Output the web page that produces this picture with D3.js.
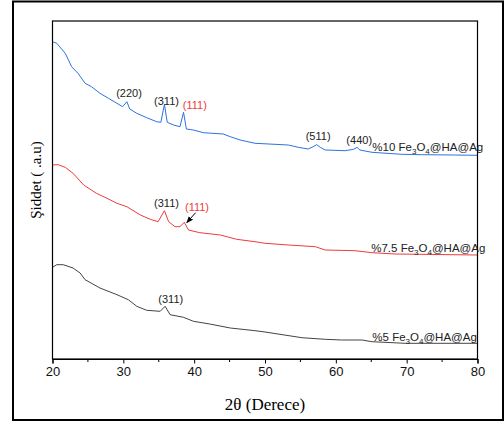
<!DOCTYPE html>
<html>
<head>
<meta charset="utf-8">
<script src="https://cdn.jsdelivr.net/npm/d3@7"></script>
<style>
  body { margin: 0; background: #fff; }
  svg { display: block; }
  .tick text { font-family: "Liberation Sans", Arial, sans-serif; }
</style>
</head>
<body>
<svg id="chart" width="504" height="425"></svg>
<script>
// XRD patterns, 2theta (deg) vs intensity (a.u., offset stacked)
var blue10 = [[20.0,317.3],[20.6,315.7],[21.8,305.7],[22.7,292.3],[23.6,285.7],[24.6,275.7],[25.5,272.3],[26.7,265.7],[27.9,260.7],[29.1,255.7],[29.9,252.3],[30.5,257.3],[30.9,250],[31.9,245.7],[33.3,241.3],[34.7,237.3],[35.3,236.7],[35.8,254.7],[36.2,236.7],[37.1,234],[38.0,232.3],[38.5,246.7],[38.9,230],[39.9,229],[41.3,226.3],[44.1,225],[45.1,222.3],[46.5,219],[48.6,215.7],[53.3,214],[54.7,211.7],[56.1,210],[56.8,212.3],[57.3,214.3],[57.8,211.7],[58.5,209],[61.3,208.3],[62.5,209.7],[63.0,211.7],[63.4,209],[65.1,206.7],[69.3,204.7],[72.1,204.3],[76.8,204],[80,203.7]];
var red75 = [[20.0,194],[20.8,194.3],[21.8,191.7],[22.9,185.7],[24.4,174],[26.2,165.7],[27.7,160.7],[29.1,155.7],[30.5,152.3],[32.4,144],[33.8,139.7],[34.9,137.3],[35.8,148.3],[36.4,137.3],[37.3,132.3],[38.0,132.3],[38.6,136.7],[39.2,129],[40.8,126.3],[43.7,124],[46.0,119.7],[48.6,117.3],[50.0,115.7],[53.3,114],[57.1,112.3],[58.5,109],[62.7,108.3],[65.1,106.3],[68.4,105],[80,104]];
var black5 = [[20.0,91.7],[20.6,94.3],[21.5,94.3],[22.9,91],[23.9,86],[24.6,79.3],[26.7,71],[29.1,64.3],[30.7,59.3],[31.9,52.7],[33.3,48.7],[35.2,47.7],[35.9,52.7],[36.6,44.3],[38.5,41.7],[39.9,37.7],[42.2,35],[45.1,31],[48.6,28.3],[50.0,27],[55.2,21.3],[58.5,19.7],[60.8,19],[63.7,19],[65.1,17.3],[69.8,15.7],[80,15.7]];

var seriesNames = ['%10', '%7.5', '%5'];
var seriesColors = ['#2b73e0', '#f03a3a', '#444444'];
var seriesLabelPos = [[65.15, 208.3], [65.0, 107.3], [65.15, 18.3]];

// peak labels: text, 2theta, intensity, red?
var peaks = [
  ['(220)', 30.8, 262.3, 0],
  ['(311)', 36.1, 254.3, 0],
  ['(111)', 40.1, 250, 1],
  ['(511)', 57.5, 219.3, 0],
  ['(440)', 63.3, 215, 0],
  ['(311)', 36.1, 152.3, 0],
  ['(111)', 40.4, 148.3, 1],
  ['(311)', 36.7, 56.3, 0]
];
var arrowFrom = [40.2, 146.3];
var arrowTo = [38.95, 136.3];

var xTicks = [20, 30, 40, 50, 60, 70, 80];
var xMinor = [25, 35, 45, 55, 65, 75];

var svg = d3.select('#chart');
var margin = { top: 21, right: 26.5, bottom: 66, left: 52.5 };
var W = 504, H = 425;

// outer frame
svg.append('rect')
  .attr('x', 13).attr('y', 1.5)
  .attr('width', 503 - 13).attr('height', 420 - 1.5)
  .attr('fill', 'none').attr('stroke', '#000').attr('stroke-width', 2);

var x = d3.scaleLinear().domain([20, 80]).range([margin.left, W - margin.right]);
var y = d3.scaleLinear().domain([0, 338]).range([H - margin.bottom, margin.top]);

svg.append('defs').append('marker')
  .attr('id', 'arr')
  .attr('viewBox', '0 0 10 10')
  .attr('refX', 9).attr('refY', 5)
  .attr('markerWidth', 7).attr('markerHeight', 7)
  .attr('orient', 'auto')
  .append('path').attr('d', 'M0,1 L10,5 L0,9 Z').attr('fill', '#000');

var line = d3.line().x(d => x(d[0])).y(d => y(d[1]));

[blue10, red75, black5].forEach(function (s, i) {
  svg.append('path')
    .datum(s)
    .attr('d', line)
    .attr('fill', 'none')
    .attr('stroke', seriesColors[i])
    .attr('stroke-width', 1);
});

// plot box
svg.append('rect')
  .attr('x', x(20)).attr('y', y(338))
  .attr('width', x(80) - x(20)).attr('height', y(0) - y(338))
  .attr('fill', 'none').attr('stroke', '#000').attr('stroke-width', 1.2);

// x axis
var xAxis = svg.append('g')
  .attr('transform', 'translate(0,' + y(0) + ')')
  .call(d3.axisBottom(x).tickValues(xTicks).tickSize(4.5).tickPadding(3).tickFormat(d3.format('d')));
xAxis.select('.domain').attr('stroke-width', 1.2);
xAxis.selectAll('.tick text').attr('font-size', 13).attr('fill', '#111');
xAxis.selectAll('.minor')
  .data(xMinor).enter()
  .append('line')
  .attr('x1', d => x(d)).attr('x2', d => x(d))
  .attr('y1', 0).attr('y2', 3)
  .attr('stroke', '#000');

svg.append('text')
  .attr('x', x(50)).attr('y', 410)
  .attr('text-anchor', 'middle')
  .attr('font-family', '"Liberation Serif", "Times New Roman", serif')
  .attr('font-size', 17)
  .text('2θ (Derece)');

svg.append('text')
  .attr('transform', 'translate(41,' + 180 + ') rotate(-90)')
  .attr('text-anchor', 'middle')
  .attr('font-family', '"Liberation Serif", "Times New Roman", serif')
  .attr('font-size', 15)
  .text('Şiddet ( .a.u)');

// peak labels
svg.selectAll('.peak')
  .data(peaks).enter()
  .append('text')
  .attr('x', d => x(d[1])).attr('y', d => y(d[2]))
  .attr('text-anchor', 'middle')
  .attr('font-family', '"Liberation Sans", Arial, sans-serif')
  .attr('font-size', 11)
  .attr('fill', d => d[3] ? '#f03a3a' : '#222')
  .text(d => d[0]);

svg.append('line')
  .attr('x1', x(arrowFrom[0])).attr('y1', y(arrowFrom[1]))
  .attr('x2', x(arrowTo[0])).attr('y2', y(arrowTo[1]))
  .attr('stroke', '#000').attr('stroke-width', 1)
  .attr('marker-end', 'url(#arr)');

// series labels
seriesNames.forEach(function (n, i) {
  var t = svg.append('text')
    .attr('x', x(seriesLabelPos[i][0])).attr('y', y(seriesLabelPos[i][1]))
    .attr('font-family', '"Liberation Sans", Arial, sans-serif')
    .attr('font-size', 11.5)
    .attr('fill', '#222');
  t.append('tspan').text(n + ' Fe');
  t.append('tspan').attr('font-size', 8).attr('dy', 3).text('3');
  t.append('tspan').attr('dy', -3).text('O');
  t.append('tspan').attr('font-size', 8).attr('dy', 3).text('4');
  t.append('tspan').attr('dy', -3).text('@HA@Ag');
});
</script>
</body>
</html>
